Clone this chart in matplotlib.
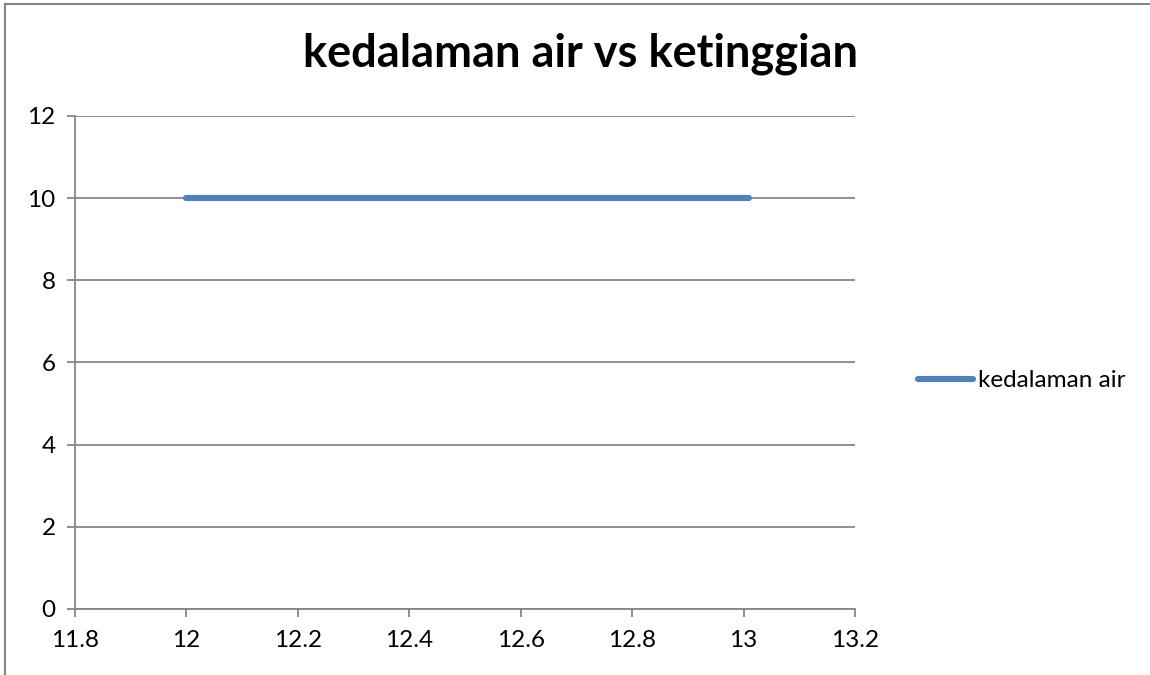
import matplotlib.pyplot as plt
from matplotlib.lines import Line2D

# data
ketinggian = [12.0, 13.01]
kedalaman_air = [10, 10]
x_ticks = [11.8, 12.0, 12.2, 12.4, 12.6, 12.8, 13.0, 13.2]
x_labels = ["11.8", "12", "12.2", "12.4", "12.6", "12.8", "13", "13.2"]
y_ticks = [0, 2, 4, 6, 8, 10, 12]

plt.rcParams['font.family'] = ['Lato', 'DejaVu Sans']
grey = '#868686'

fig = plt.figure(figsize=(11.5, 6.75), dpi=100)
ax = fig.add_axes([0.0652, 0.0978, 0.6783, 0.7304])

ax.plot(ketinggian, kedalaman_air, color='#4F81BD', linewidth=4.4,
        solid_capstyle='round', label='kedalaman air', zorder=3)

ax.set_xlim(11.8, 13.2)
ax.set_ylim(0, 12)
ax.set_xticks(x_ticks)
ax.set_xticklabels(x_labels)
ax.set_yticks(y_ticks)
ax.grid(axis='y', color=grey, linewidth=1.3)
ax.set_axisbelow(True)

for side in ['top', 'right']:
    ax.spines[side].set_visible(False)
for side in ['left', 'bottom']:
    ax.spines[side].set_color(grey)
    ax.spines[side].set_linewidth(1.3)
ax.tick_params(colors=grey, labelcolor='black', labelsize=17.5, length=6,
               width=1.3, direction='out')
ax.tick_params(axis='x', pad=9)
ax.tick_params(axis='y', pad=8)

fig.text(0.505, 0.921, "kedalaman air vs ketinggian", ha='center', va='center',
         fontsize=32.5, fontweight='bold')

leg = ax.legend(loc='center left', bbox_to_anchor=(1.081, 0.4625), frameon=False,
                fontsize=17.5, handlelength=2.25, handletextpad=0.2,
                borderpad=0, borderaxespad=0)

# outer chart border (only left and top visible)
fig.add_artist(Line2D([5 / 1150, 5 / 1150], [0, 1 - 4 / 675], color=grey, linewidth=1.5))
fig.add_artist(Line2D([5 / 1150, 1], [1 - 4 / 675, 1 - 4 / 675], color=grey, linewidth=1.5))

fig.savefig('out.png', dpi=100)
